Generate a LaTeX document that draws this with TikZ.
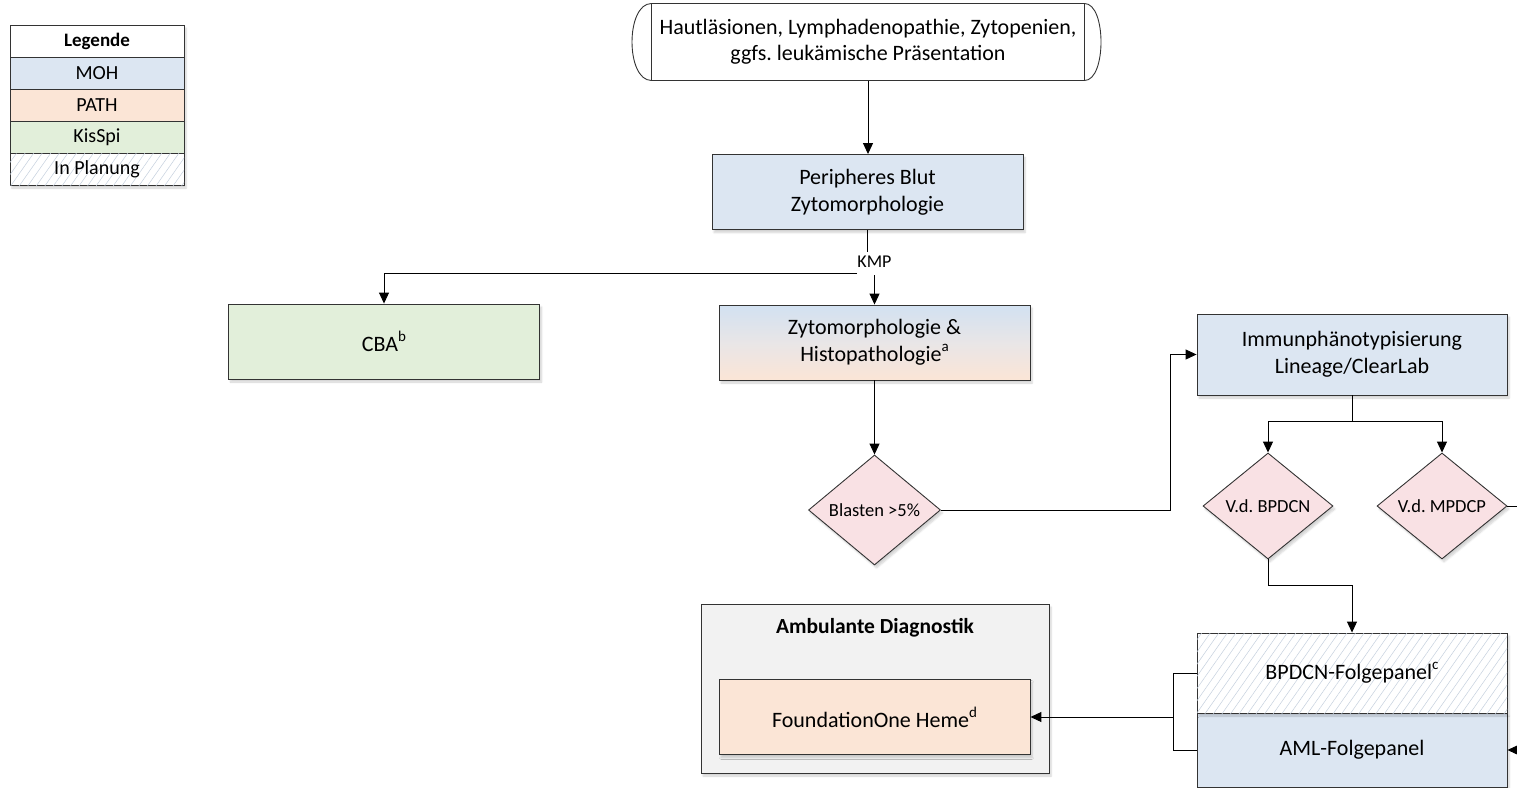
\documentclass[tikz,border=0pt]{standalone}
\usepackage{fontspec}
\setmainfont{Carlito}
\frenchspacing
\usetikzlibrary{arrows.meta,shapes.geometric,patterns.meta,shadows.blur,calc}

\definecolor{moh}{HTML}{DCE6F2}
\definecolor{mohtop}{HTML}{D2E1F1}
\definecolor{pathc}{HTML}{FBE5D6}
\definecolor{kisspi}{HTML}{E2EFDA}
\definecolor{decis}{HTML}{F9E1E4}
\definecolor{frame}{HTML}{F2F2F2}
\definecolor{hatch}{HTML}{C5D0DE}
\definecolor{edge}{HTML}{333333}

% raised small index letters
\newcommand{\idx}[1]{\raisebox{0.45em}{\fontsize{15}{15}\selectfont #1}}

\begin{document}
\begin{tikzpicture}[x=1pt,y=-1pt,
  >={Triangle[length=11pt,width=10pt]},
  line width=1pt,
  shade/.style={blur shadow={shadow xshift=2pt,shadow yshift=-3pt,shadow opacity=18,shadow blur steps=6}},
  box/.style={draw=edge,line width=0.9pt,minimum width=311pt,minimum height=75pt,
    align=center,inner sep=0pt,font=\fontsize{22}{27}\selectfont,shade},
  decision/.style={diamond,draw=edge,line width=0.9pt,fill=decis,inner sep=0pt,
    font=\fontsize{18.5}{20}\selectfont,shade},
  legrow/.style={draw=edge,line width=0.8pt,minimum width=174pt,minimum height=32pt,
    inner sep=0pt,font=\fontsize{20}{22}\selectfont},
  planned/.style={fill=white,postaction={pattern={Lines[angle=55,distance=7pt,line width=0.5pt]},pattern color=hatch}},
  link/.style={draw=black,line width=1pt}
]
\useasboundingbox (0,0) rectangle (1517,787);
\clip (0,0) rectangle (1517,787);

% legend
\fill[white,shade] (10,25) rectangle (184,185);
\node[legrow,fill=white,font=\fontsize{19}{20}\selectfont\bfseries] (lg0) at (97,41) {Legende};
\node[legrow,fill=moh] (lg1) at (97,73) {MOH};
\node[legrow,fill=pathc] (lg2) at (97,105) {PATH};
\node[legrow,fill=kisspi] (lg3) at (97,137) {KisSpi};
\node[legrow,planned] (lg4) at (97,169) {In Planung};

% start terminator
\node[align=center,inner sep=0pt,minimum width=432pt,minimum height=76pt,
  font=\fontsize{22}{26}\selectfont] (start) at (868,42)
  {Hautläsionen, Lymphadenopathie, Zytopenien,\\ggfs. leukämische Präsentation};
\draw[edge,line width=0.9pt] (start.north west) -- (start.north east)
  .. controls ($(start.north east)+(22,0)$) and ($(start.south east)+(22,0)$) .. (start.south east)
  -- (start.south west)
  .. controls ($(start.south west)+(-26,0)$) and ($(start.north west)+(-26,0)$) .. (start.north west);
\draw[edge,line width=0.9pt] (start.north west) -- (start.south west);
\draw[edge,line width=0.9pt] (start.north east) -- (start.south east);

% process boxes
\node[box,fill=moh] (peri) at (867.5,192) {Peripheres Blut\\Zytomorphologie};
\node[box,fill=kisspi] (cba) at (384,341.5) {CBA\idx{b}};
\node[box,top color=mohtop,bottom color=pathc,middle color=moh!60!pathc] (zyto) at (874.5,342.5)
  {Zytomorphologie \&\\Histopathologie\idx{a}};
\node[box,fill=moh,minimum width=310pt,minimum height=81pt] (imm) at (1352,354.5)
  {Immunphänotypisierung\\Lineage/ClearLab};

% decisions
\node[decision,minimum width=132pt,minimum height=110pt] (blast) at (874.5,510) {Blasten >5\%};
\node[decision,minimum width=130pt,minimum height=106pt] (dB) at (1268,506) {V.d. BPDCN};
\node[decision,minimum width=130pt,minimum height=106pt] (dM) at (1442,506) {V.d. MPDCP};

% follow-up panels
\node[box,fill=moh,minimum width=310pt,minimum height=74pt] (aml) at (1352,750) {AML-Folgepanel};
\node[box,planned,minimum width=310pt,minimum height=80pt] (pB) at (1352,673) {BPDCN-Folgepanel\idx{c}};

% outpatient diagnostics
\node[draw=edge,line width=0.9pt,fill=frame,minimum width=348pt,minimum height=169pt,inner sep=0pt,shade] (amb) at (875,688.5) {};
\node[font=\fontsize{21.5}{24}\selectfont\bfseries] (ambt) at (875,628) {Ambulante Diagnostik};
\node[box,fill=pathc,minimum width=311pt,minimum height=75pt] (found) at (874.5,717) {FoundationOne Heme\idx{d}};

% connectors
\draw[link,->] (start.south) -- (start.south |- peri.north);
\node[font=\fontsize{18}{18}\selectfont,inner sep=0pt] (kmp) at (874.5,262) {KMP};
\coordinate (kmpL) at (857,273.5);
\draw[link] (peri.south) -- (peri.south |- 0,252);
\draw[link,->] (zyto.north |- 0,275) -- (zyto.north);
\draw[link,->] (kmpL) -| (cba.north);
\draw[link,->] (zyto.south) -- (blast.north);
\draw[link,->] (blast.east) -- ++(230,0) |- (imm.west);
\draw[link] (imm.south) -- ++(0,26) coordinate (split);
\draw[link,->] (split) -| (dB.north);
\draw[link,->] (split) -| (dM.north);
\draw[link,->] (dB.south) -- ++(0,26) -| (pB.north);
\draw[link,->] (dM.east) -- ++(30,0) |- (aml.east);
\coordinate (brk) at (1173,717);
\draw[link] (pB.west) -| (brk) |- (aml.west);
\draw[link,->] (brk) -- (found.east);
\end{tikzpicture}
\end{document}
